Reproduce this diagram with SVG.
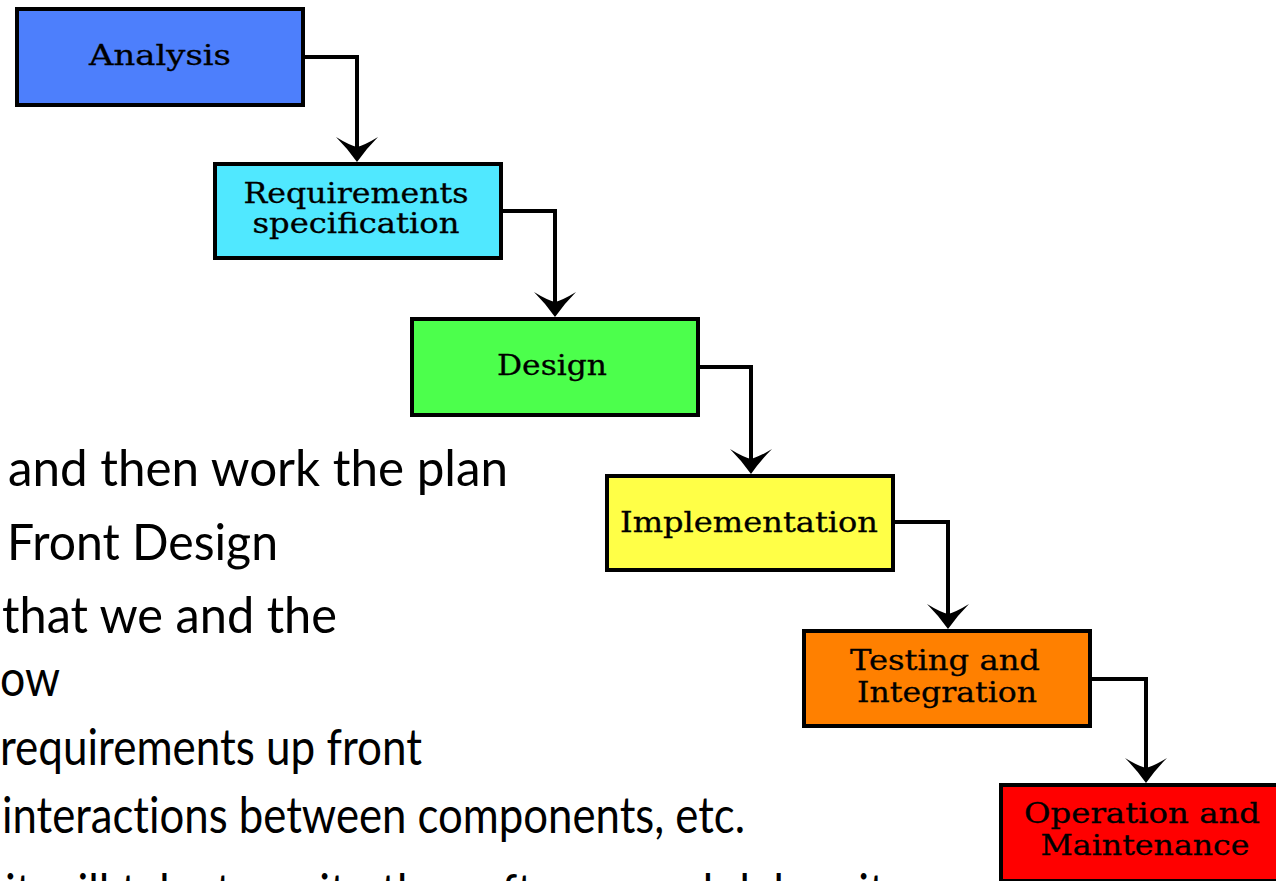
<svg xmlns="http://www.w3.org/2000/svg" width="1276" height="881" viewBox="0 0 1276 881">
<defs>
<style>
.box{stroke:#000;stroke-width:4}
.lbl{font-family:"DejaVu Serif","Liberation Serif",serif;font-size:27px;fill:#000;stroke:#000;stroke-width:0.3;text-anchor:middle}
.bul{font-family:Lato,"Open Sans","Liberation Sans",sans-serif;font-size:51px;fill:#000;font-variant-ligatures:none;font-feature-settings:"liga" 0}
.con{fill:none;stroke:#000;stroke-width:4;marker-end:url(#arr)}
</style>
<marker id="arr" viewBox="-16 -24 28 48" refX="0" refY="0" markerWidth="28" markerHeight="48" markerUnits="userSpaceOnUse" orient="auto">
<path d="M11 0 Q-2 -9 -14 -21 Q-6 -8 -4 0 Q-6 8 -14 21 Q-2 9 11 0 Z" fill="#000"/>
</marker>
</defs>
<rect width="1276" height="881" fill="#fff"/>
<g id="bullets">
<text class="bul" x="8" y="486" textLength="500" lengthAdjust="spacingAndGlyphs">and then work the plan</text>
<text class="bul" x="7" y="560" textLength="271" lengthAdjust="spacingAndGlyphs">Front Design</text>
<text class="bul" x="2" y="633" textLength="335" lengthAdjust="spacingAndGlyphs">that we and the</text>
<text class="bul" x="0" y="696" textLength="60" lengthAdjust="spacingAndGlyphs">ow</text>
<text class="bul" x="0" y="765" textLength="422" lengthAdjust="spacingAndGlyphs">requirements up front</text>
<text class="bul" x="2" y="833" textLength="743" lengthAdjust="spacingAndGlyphs">interactions between components, etc.</text>
<text class="bul" x="5" y="910" textLength="880" lengthAdjust="spacingAndGlyphs">it will take to write the software and debug it</text>
</g>
<g id="connectors">
<path class="con" d="M303 57 H357 V151"/>
<path class="con" d="M501 211 H555 V306"/>
<path class="con" d="M698 367 H751 V463"/>
<path class="con" d="M893 522 H948 V618"/>
<path class="con" d="M1090 679 H1146 V772"/>
</g>
<g id="analysis">
<rect class="box" x="17" y="9" width="286" height="96" fill="#4d7ffc"/>
<text class="lbl" x="160" y="65" textLength="142" lengthAdjust="spacingAndGlyphs">Analysis</text>
</g>
<g id="requirements">
<rect class="box" x="215" y="164" width="286" height="94" fill="#50e8ff"/>
<text class="lbl" x="356" y="203" textLength="225" lengthAdjust="spacingAndGlyphs">Requirements</text>
<text class="lbl" x="356" y="233" textLength="207" lengthAdjust="spacingAndGlyphs">specification</text>
</g>
<g id="design">
<rect class="box" x="412" y="319" width="286" height="96" fill="#4cff4c"/>
<text class="lbl" x="552" y="375" textLength="110" lengthAdjust="spacingAndGlyphs">Design</text>
</g>
<g id="implementation">
<rect class="box" x="607" y="476" width="286" height="94" fill="#ffff47"/>
<text class="lbl" x="749" y="532" textLength="258" lengthAdjust="spacingAndGlyphs">Implementation</text>
</g>
<g id="testing">
<rect class="box" x="804" y="631" width="286" height="95" fill="#ff8000"/>
<text class="lbl" x="945" y="670" textLength="190" lengthAdjust="spacingAndGlyphs">Testing and</text>
<text class="lbl" x="947" y="702" textLength="180" lengthAdjust="spacingAndGlyphs">Integration</text>
</g>
<g id="operation">
<rect class="box" x="1001" y="785" width="286" height="96" fill="#ff0000"/>
<text class="lbl" x="1142" y="823" textLength="236" lengthAdjust="spacingAndGlyphs">Operation and</text>
<text class="lbl" x="1145" y="855" textLength="209" lengthAdjust="spacingAndGlyphs">Maintenance</text>
</g>
</svg>
